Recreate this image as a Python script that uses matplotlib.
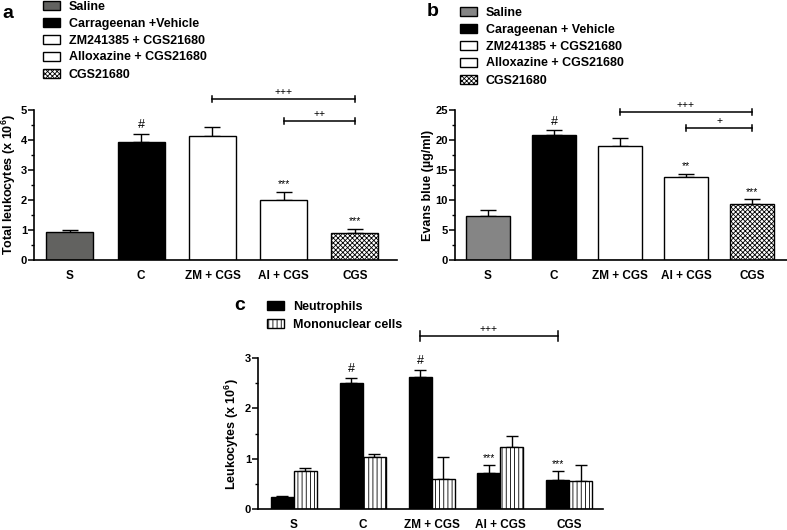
import numpy as np
import matplotlib
matplotlib.use("Agg")
import matplotlib.pyplot as plt
from matplotlib.ticker import MultipleLocator

plt.rcParams["font.family"] = ["Liberation Sans", "DejaVu Sans"]
plt.rcParams["font.weight"] = "bold"
plt.rcParams["mathtext.fontset"] = "custom"
plt.rcParams["mathtext.rm"] = "Liberation Sans:bold"
plt.rcParams["mathtext.bf"] = "Liberation Sans:bold"
plt.rcParams["hatch.linewidth"] = 0.6

# ---- data ----
groups = ["S", "C", "ZM + CGS", "Al + CGS", "CGS"]

# panel a: total leukocytes (x10^6)
leuk_mean = [0.94, 3.95, 4.14, 2.01, 0.90]
leuk_err = [0.06, 0.25, 0.29, 0.25, 0.13]
leuk_marks = ["", "#", "", "***", "***"]

# panel b: Evans blue (ug/ml)
evans_mean = [7.4, 20.9, 19.0, 13.9, 9.3]
evans_err = [1.0, 0.7, 1.4, 0.5, 0.8]
evans_marks = ["", "#", "", "**", "***"]

# panel c: neutrophils / mononuclear cells (x10^6)
neut_mean = [0.24, 2.50, 2.63, 0.71, 0.58]
neut_err = [0.02, 0.10, 0.14, 0.16, 0.17]
neut_marks = ["", "#", "#", "***", "***"]
mono_mean = [0.76, 1.04, 0.61, 1.23, 0.56]
mono_err = [0.05, 0.05, 0.43, 0.22, 0.32]

legend_ab = ["Saline", "Carageenan + Vehicle", "ZM241385 + CGS21680",
             "Alloxazine + CGS21680", "CGS21680"]
legend_a = ["Saline", "Carrageenan +Vehicle", "ZM241385 + CGS21680",
            "Alloxazine + CGS21680", "CGS21680"]
legend_c = ["Neutrophils", "Mononuclear cells"]

# brackets: (from group, to group, height, label)
brackets_a = [(2, 4, 5.36, "+++"), (3, 4, 4.64, "++")]
brackets_b = [(2, 4, 24.7, "+++"), (3, 4, 22.0, "+")]
brackets_c = [(2, 4, 3.44, "+++")]

W, H = 787, 530
fig = plt.figure(figsize=(W / 100, H / 100), dpi=100)


def px_axes(left, right, bottom, top):
    return fig.add_axes([left / W, 1 - bottom / H, (right - left) / W, (bottom - top) / H])


def style(ax, ymax, major, minor, ylabel, labelx):
    ax.set_ylim(0, ymax)
    ax.yaxis.set_major_locator(MultipleLocator(major))
    ax.yaxis.set_minor_locator(MultipleLocator(minor))
    for s in ["top", "right"]:
        ax.spines[s].set_visible(False)
    for s in ["left", "bottom"]:
        ax.spines[s].set_linewidth(1.2)
    ax.tick_params(axis="y", which="major", length=4, width=1.1, labelsize=8, pad=1)
    ax.tick_params(axis="y", which="minor", length=2.5, width=1.0)
    ax.tick_params(axis="x", length=0, labelsize=8.5, pad=7)
    ax.set_xticks(range(len(groups)))
    ax.set_xticklabels(groups, fontweight="bold")
    for t in ax.get_yticklabels():
        t.set_fontweight("bold")
    ax.set_ylabel(ylabel, fontsize=9, fontweight="bold")
    ax.yaxis.set_label_coords(labelx, 0.5)


def marks(ax, xs, tops, labels, offset=2):
    for x, t, lab in zip(xs, tops, labels):
        if lab:
            fs = 9 if lab == "#" else 7.5
            ax.annotate(lab, (x, t), xytext=(0, offset), textcoords="offset points",
                        ha="center", va="bottom", fontsize=fs, fontweight="normal",
                        annotation_clip=False)


def brackets(ax, xs, items, cap):
    for i, j, y, lab in items:
        ax.plot([xs[i], xs[j]], [y, y], color="k", lw=1.1, clip_on=False)
        for x in (xs[i], xs[j]):
            ax.plot([x, x], [y - cap, y + cap], color="k", lw=1.1, clip_on=False)
        ax.annotate(lab, ((xs[i] + xs[j]) / 2, y), xytext=(0, 1.5), textcoords="offset points",
                    ha="center", va="bottom", fontsize=7.5, fontweight="normal",
                    annotation_clip=False)


five_styles = [
    dict(color=None, hatch=None),
    dict(color="black", hatch=None),
    dict(color="white", hatch=None),
    dict(color="white", hatch=None),
    dict(color="white", hatch="xxxxxxx"),
]


def five_bars(ax, means, errs, saline_color, width):
    x = np.arange(len(groups))
    handles = []
    for i in range(len(groups)):
        fc = saline_color if i == 0 else five_styles[i]["color"]
        b = ax.bar(x[i], means[i], width=width, color=fc, edgecolor="black", lw=1.0,
                   hatch=five_styles[i]["hatch"], zorder=2)
        handles.append(b)
        ax.errorbar(x[i], means[i], yerr=[[0], [errs[i]]], fmt="none", ecolor="black",
                    elinewidth=1.0, capsize=6, capthick=1.0, zorder=1)
    return x, handles


# ---- panel a ----
ax_a = px_axes(34, 397, 260, 110)
xa, ha = five_bars(ax_a, leuk_mean, leuk_err, "#626260", 0.66)
ax_a.set_xlim(-0.505, 4.59)
style(ax_a, 5, 1, 0.5, r"Total leukocytes (x 10$^{6}$)", -0.043)
marks(ax_a, xa, np.add(leuk_mean, leuk_err), leuk_marks)
brackets(ax_a, xa, brackets_a, 0.1)

# ---- panel b ----
ax_b = px_axes(455, 787, 260, 110)
xb, hb = five_bars(ax_b, evans_mean, evans_err, "#858585", 0.68)
ax_b.set_xlim(-0.5, 4.53)
style(ax_b, 25, 5, 2.5, "Evans blue (\u00b5g/ml)", -0.063)
marks(ax_b, xb, np.add(evans_mean, evans_err), evans_marks)
brackets(ax_b, xb, brackets_b, 0.5)

# ---- panel c ----
ax_c = px_axes(258, 603, 509.3, 358)
xc = np.arange(len(groups))
bw = 0.334
hn = ax_c.bar(xc - bw / 2, neut_mean, width=bw, color="black", edgecolor="black", lw=1.0, zorder=2)
hm = ax_c.bar(xc + bw / 2, mono_mean, width=bw, color="white", edgecolor="black", lw=1.0,
              hatch="||||", zorder=2)
ax_c.errorbar(xc - bw / 2, neut_mean, yerr=[np.zeros(5), neut_err], fmt="none", ecolor="black",
              elinewidth=1.0, capsize=4, capthick=1.0, zorder=1)
ax_c.errorbar(xc + bw / 2, mono_mean, yerr=[np.zeros(5), mono_err], fmt="none", ecolor="black",
              elinewidth=1.0, capsize=4, capthick=1.0, zorder=1)
ax_c.set_xlim(-0.52, 4.49)
style(ax_c, 3, 1, 0.5, r"Leukocytes (x 10$^{6}$)", -0.049)
marks(ax_c, xc - bw / 2, np.add(neut_mean, neut_err), neut_marks)
brackets(ax_c, xc - bw / 2, brackets_c, 0.1)

# ---- legends ----
leg_kw = dict(loc="upper left", frameon=False, borderpad=0, borderaxespad=0,
              handlelength=1.36, handleheight=0.7, handletextpad=0.7,
              prop={"size": 9, "weight": "bold"},
              bbox_transform=fig.transFigure)
fig.legend([h[0] for h in ha], legend_a, bbox_to_anchor=(43 / W, 1 - 0.5 / H),
           labelspacing=0.4, **leg_kw)
fig.legend([h[0] for h in hb], legend_ab, bbox_to_anchor=(460 / W, 1 - 6.5 / H),
           labelspacing=0.4, **leg_kw)
fig.legend([hn, hm], legend_c, bbox_to_anchor=(267 / W, 1 - 301 / H),
           labelspacing=0.48, **leg_kw)

fig.text(8 / W, 1 - 13 / H, "a", fontsize=14, fontweight="bold", ha="center", va="center")
fig.text(433 / W, 1 - 12 / H, "b", fontsize=14, fontweight="bold", ha="center", va="center")
fig.text(240 / W, 1 - 305 / H, "c", fontsize=14, fontweight="bold", ha="center", va="center")

fig.savefig("out.png", dpi=100)
